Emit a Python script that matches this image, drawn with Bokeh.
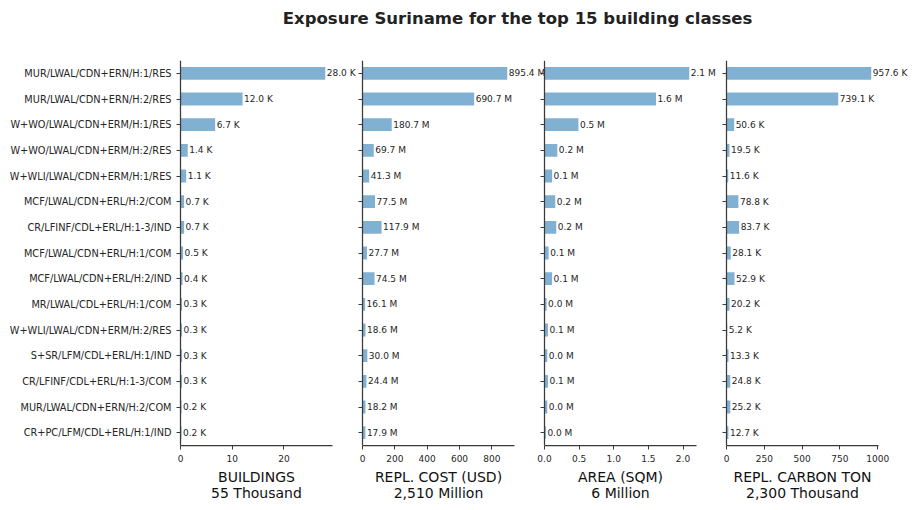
from bokeh.plotting import figure
from bokeh.models import (ColumnDataSource, LabelSet, Range1d,
                          FixedTicker, PrintfTickFormatter, Div)
from bokeh.layouts import row, column
from bokeh.embed import file_html
from bokeh.resources import INLINE
from bokeh.core.properties import value

classes = [
    "MUR/LWAL/CDN+ERN/H:1/RES",
    "MUR/LWAL/CDN+ERN/H:2/RES",
    "W+WO/LWAL/CDN+ERM/H:1/RES",
    "W+WO/LWAL/CDN+ERM/H:2/RES",
    "W+WLI/LWAL/CDN+ERM/H:1/RES",
    "MCF/LWAL/CDN+ERL/H:2/COM",
    "CR/LFINF/CDL+ERL/H:1-3/IND",
    "MCF/LWAL/CDN+ERL/H:1/COM",
    "MCF/LWAL/CDN+ERL/H:2/IND",
    "MR/LWAL/CDL+ERL/H:1/COM",
    "W+WLI/LWAL/CDN+ERM/H:2/RES",
    "S+SR/LFM/CDL+ERL/H:1/IND",
    "CR/LFINF/CDL+ERL/H:1-3/COM",
    "MUR/LWAL/CDN+ERN/H:2/COM",
    "CR+PC/LFM/CDL+ERL/H:1/IND",
]
buildings_k = [28.0, 12.0, 6.7, 1.4, 1.1, 0.7, 0.7, 0.5, 0.4, 0.3, 0.3, 0.3, 0.3, 0.2, 0.2]
cost_musd = [895.4, 690.7, 180.7, 69.7, 41.3, 77.5, 117.9, 27.7, 74.5, 16.1, 18.6, 30.0, 24.4, 18.2, 17.9]
area_msqm = [2.09, 1.61, 0.49, 0.185, 0.11, 0.155, 0.17, 0.06, 0.11, 0.03, 0.05, 0.04, 0.05, 0.04, 0.02]
carbon_kton = [957.6, 739.1, 50.6, 19.5, 11.6, 78.8, 83.7, 28.1, 52.9, 20.2, 5.2, 13.3, 24.8, 25.2, 12.7]

panel_values = [buildings_k, cost_musd, area_msqm, carbon_kton]
panel_units = ["K", "M", "M", "K"]
panel_labels = ["BUILDINGS\n55 Thousand", "REPL. COST (USD)\n2,510 Million",
                "AREA (SQM)\n6 Million", "REPL. CARBON TON\n2,300 Thousand"]
panel_ticks = [[0, 10, 20], [0, 200, 400, 600, 800], [0, 0.5, 1.0, 1.5, 2.0],
               [0, 250, 500, 750, 1000]]
panel_tick_fmt = ["%d", "%d", "%.1f", "%d"]
title_text = "Exposure Suriname for the top 15 building classes"

FONT = "DejaVu Sans"
TXT = "#262626"
SPINE = "#3a3a3a"
BAR = "#80b1d3"

AXIS_PX = 152                 # visible length of each x axis
AXIS_X0 = [180, 362, 544, 726]  # page x of each panel's y axis
EXT = [180, 33, 33, 33]       # invisible frame room on both sides of each axis

pos = list(range(len(classes)))

figs = []
prev_end = 0
for i, (vals, unit, lab, ticks, fmt) in enumerate(
        zip(panel_values, panel_units, panel_labels, panel_ticks, panel_tick_fmt)):
    axis_end = max(vals) * 1.05
    per_px = axis_end / AXIS_PX
    ext = EXT[i]
    start = AXIS_X0[i] - ext
    p = figure(
        y_range=Range1d(len(classes) - 0.5, -0.5),
        x_range=Range1d(-ext * per_px, axis_end + ext * per_px),
        frame_width=AXIS_PX + 2 * ext, frame_height=385,
        min_border_left=0, min_border_right=0,
        min_border_top=20, min_border_bottom=65,
        output_backend="svg", toolbar_location=None,
        background_fill_color=None, border_fill_color=None,
        outline_line_color=None,
        margin=(0, 0, 0, start - prev_end),
    )
    prev_end = start + AXIS_PX + 2 * ext
    src = ColumnDataSource(dict(pos=pos, val=vals,
                                txt=[f"{v:.1f} {unit}" for v in vals]))
    p.hbar(y="pos", left=0, right="val", height=0.5, source=src,
           fill_color=BAR, line_color=None)
    p.add_layout(LabelSet(x="val", y="pos", text="txt", source=src,
                          x_offset=1.5, text_baseline="middle", text_align="left",
                          text_font=value(FONT), text_font_size="9px",
                          text_color=TXT))
    p.xgrid.grid_line_color = None
    p.ygrid.grid_line_color = None

    xa = p.xaxis[0]
    xa.bounds = (0, axis_end)
    xa.ticker = FixedTicker(ticks=ticks)
    xa.formatter = PrintfTickFormatter(format=fmt)
    xa.axis_label = lab
    xa.axis_label_text_font = FONT
    xa.axis_label_text_font_size = "14px"
    xa.axis_label_text_font_style = "normal"
    xa.axis_label_text_color = "#111111"
    xa.axis_label_text_line_height = 1.05
    xa.axis_label_standoff = 4
    xa.major_label_text_font = FONT
    xa.major_label_text_font_size = "9px"
    xa.major_label_text_color = TXT
    xa.major_label_standoff = 5
    xa.minor_tick_line_color = None
    xa.major_tick_in = 0
    xa.major_tick_out = 4
    xa.major_tick_line_color = SPINE
    xa.axis_line_color = SPINE
    xa.axis_line_width = 1.25

    ya = p.yaxis[0]
    ya.fixed_location = 0
    ya.ticker = FixedTicker(ticks=pos)
    ya.major_tick_in = 0
    ya.major_tick_out = 4
    ya.major_tick_line_color = SPINE
    ya.axis_line_color = SPINE
    ya.axis_line_width = 1.25
    ya.minor_tick_line_color = None
    ya.major_label_text_font = FONT
    ya.major_label_text_color = TXT
    ya.major_label_standoff = 5
    if i == 0:
        ya.major_label_overrides = {y: c for y, c in zip(pos, classes)}
        ya.major_label_text_font_size = "9.75px"
    else:
        ya.major_label_overrides = {y: "" for y in pos}
        ya.major_label_text_font_size = "0px"
        ya.major_label_text_alpha = 0
    figs.append(p)

title = Div(
    text=(f'<div style="box-sizing:border-box;width:918px;padding-left:117px;'
          f'padding-top:7px;text-align:center;font-family:\'{FONT}\';'
          f'font-weight:bold;font-size:16.5px;color:#222222;">{title_text}</div>'),
    width=918, height=40, margin=(0, 0, 0, 0),
)

layout = column(title, row(*figs, margin=(0, 0, 0, 0)), margin=(0, 0, 0, 0))
open("out.html", "w").write(file_html(layout, INLINE))
